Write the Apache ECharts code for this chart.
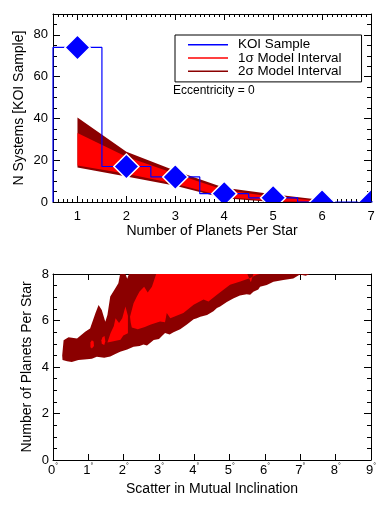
<!DOCTYPE html>
<html><head><meta charset="utf-8">
<script src="https://cdn.jsdelivr.net/npm/echarts@6/dist/echarts.min.js"></script>
<style>html,body{margin:0;padding:0;background:#fff}#c{width:388px;height:507px}</style>
</head><body><div id="c"></div>
<script>
// ---- data ----
const planetCounts = [1, 2, 3, 4, 5, 6, 7];
const koiSystems = [74, 17, 12, 4, 2, 0, 0];
const modelX = [1, 2, 3, 4, 5, 6];
const sigma2Upper = [40.5, 24, 15, 6.8, 3.7, 1];
const sigma2Lower = [16.5, 12.2, 7.8, 1.8, 0, 0];
const sigma1Upper = [33, 21.7, 13.5, 5.7, 2.5, 0.5];
const sigma1Lower = [17.5, 13.5, 8.7, 2.5, 0.3, 0];
const topXTicks = [1, 2, 3, 4, 5, 6, 7];
const topYTicks = [0, 20, 40, 60, 80];

// bottom panel: contour outlines [scatter in mutual inclination (deg), planets per star]
const contour2Sigma = [
  [0.27,4.3],[0.4,4.25],[0.53,4.22],[0.72,4.3],[0.96,4.33],[1.1,4.36],[1.24,4.44],[1.45,4.4],
  [1.62,4.45],[1.75,4.55],[1.9,4.66],[2.1,4.75],[2.28,4.87],[2.45,4.9],[2.56,4.97],[2.66,4.92],
  [2.85,5.16],[3.0,5.2],[3.17,5.46],[3.3,5.4],[3.41,5.5],[3.6,5.62],[3.79,5.83],[3.98,6.05],
  [4.07,6.1],[4.17,6.16],[4.36,6.24],[4.54,6.4],[4.64,6.54],[4.73,6.6],[4.92,6.8],[5.1,6.95],
  [5.29,7.08],[5.48,7.13],[5.58,7.11],[5.67,7.24],[5.81,7.33],[5.86,7.45],[6.05,7.53],[6.24,7.67],
  [6.52,7.74],[6.8,7.81],[6.99,7.98],[7.15,7.93],[7.27,8.0],
  [2.15,8.0],[2.1,7.8],[2.05,8.0],[1.9,8.0],[1.85,7.6],[1.76,7.38],[1.62,7.03],[1.54,6.24],
  [1.48,5.95],[1.38,6.45],[1.29,6.67],[1.2,6.31],[1.05,5.66],[0.91,5.52],[0.68,5.23],[0.44,5.28],
  [0.3,5.15],[0.26,4.5]
];
const contour1Sigma = [
  [[2.23,5.7],[2.4,5.62],[2.6,5.72],[2.75,5.82],[3.03,5.96],[3.17,5.92],[3.22,6.32],[3.32,6.1],
   [3.46,6.18],[3.69,6.32],[3.98,6.68],[4.26,6.9],[4.4,6.82],[4.64,7.11],[5.01,7.54],[5.3,7.68],
   [5.58,7.83],[5.77,7.97],[5.85,8.0],[5.67,8.0],[5.6,7.65],[5.5,8.0],[2.92,8.0],[2.8,7.45],
   [2.68,7.2],[2.58,7.45],[2.45,7.25],[2.37,7.02],[2.28,6.74],[2.18,6.16],[2.2,5.9]],
  [[1.54,5.05],[1.63,5.46],[1.72,5.75],[1.77,6.1],[1.87,5.89],[1.96,6.1],[2.05,6.6],[2.12,6.2],
   [2.12,5.45],[1.99,5.35],[1.91,5.17],[1.68,5.1]],
  [[1.06,4.85],[1.1,4.8],[1.16,4.9],[1.15,5.1],[1.1,5.15],[1.06,5.05]],
  [[1.38,5.0],[1.45,4.95],[1.48,5.1],[1.46,5.33],[1.4,5.28],[1.37,5.15]]
];

// ---- chart ----
const FONT = "'Liberation Sans', Arial, sans-serif";
const BLUE = '#0000ff', RED = '#ff0000', DARK = '#8b0000';
const line = {show: true, onZero: false, lineStyle: {color: '#000', width: 1}};
const noLine = {show: false, onZero: false};
const lbl = {fontFamily: FONT, fontSize: 13, color: '#000'};
const nameStyle = {fontFamily: FONT, fontSize: 14, color: '#000'};
const tick = (len, extra) => Object.assign({inside: true, length: len, lineStyle: {color: '#000'}}, extra || {});

function bandPolygon(lower, upper) {
  const up = modelX.map((x, i) => [x, upper[i]]);
  const lo = modelX.map((x, i) => [x, lower[i]]).reverse();
  return up.concat(lo);
}
function polySeries(name, polys, color, xi, yi) {
  return {
    type: 'custom', name, xAxisIndex: xi, yAxisIndex: yi, clip: true,
    itemStyle: {color},
    data: polys.map((_, i) => [i]),
    renderItem: (params, api) => ({
      type: 'polygon',
      shape: {points: polys[params.dataIndex].map(p => api.coord(p))},
      style: {fill: color, stroke: null}
    })
  };
}
const stepData = [[planetCounts[0] - 0.5, 0]];
planetCounts.forEach((n, i) => {
  stepData.push([n - 0.5, koiSystems[i]]);
  stepData.push([n + 0.5, koiSystems[i]]);
});

const degFmt = v => '{n|' + v + '}{d|°}';

const blankAxis = (gi, min, max, interval, pos, len) => ({
  gridIndex: gi, type: 'value', min, max, interval, position: pos,
  axisLine: noLine, splitLine: {show: false}, axisLabel: {show: false}, axisTick: tick(len)
});

const option = {
  animation: false,
  backgroundColor: '#fff',
  grid: [
    {left: 53, top: 14, width: 318, height: 188},
    {left: 53, top: 274, width: 318, height: 186},
    {left: 53, top: 14, width: 318, height: 188}
  ],
  legend: {
    left: 175, top: 35, orient: 'vertical', selectedMode: false,
    padding: [3, 20, 4, 13], itemGap: 0, itemWidth: 40, itemHeight: 1.5,
    borderColor: '#000', borderWidth: 1,
    textStyle: {fontFamily: FONT, fontSize: 13.4, color: '#000', lineHeight: 13.3, padding: [0, 0, 0, 5]},
    data: [
      {name: 'KOI Sample', icon: 'rect'},
      {name: '1σ Model Interval', icon: 'rect'},
      {name: '2σ Model Interval', icon: 'rect'}
    ]
  },
  graphic: [{
    type: 'text', left: 173, top: 85,
    style: {text: 'Eccentricity = 0', fontFamily: FONT, fontSize: 12, fill: '#000'}
  }],
  xAxis: [
    {gridIndex: 0, type: 'value', min: 0.5, max: 7, position: 'bottom', axisLine: line,
     splitLine: {show: false}, axisTick: tick(6, {customValues: topXTicks}),
     axisLabel: Object.assign({margin: 8, customValues: topXTicks}, lbl),
     name: 'Number of Planets Per Star', nameLocation: 'middle', nameGap: 22, nameTextStyle: nameStyle},
    {gridIndex: 0, type: 'value', min: 0.5, max: 7, position: 'top', axisLine: line,
     splitLine: {show: false}, axisLabel: {show: false}, axisTick: tick(6, {customValues: topXTicks})},
    {gridIndex: 1, type: 'value', min: 0, max: 9, interval: 1, position: 'bottom', axisLine: line,
     splitLine: {show: false}, axisTick: tick(6),
     axisLabel: {margin: 3, formatter: degFmt,
       rich: {n: {fontFamily: FONT, fontSize: 13, color: '#000', lineHeight: 14},
              d: {fontFamily: FONT, fontSize: 7, color: '#000', verticalAlign: 'top', lineHeight: 7}}},
     name: 'Scatter in Mutual Inclination', nameLocation: 'middle', nameGap: 22, nameTextStyle: nameStyle},
    {gridIndex: 1, type: 'value', min: 0, max: 9, interval: 1, position: 'top', axisLine: line,
     splitLine: {show: false}, axisLabel: {show: false}, axisTick: tick(6)},
    blankAxis(2, 0.5, 7, 0.1, 'bottom', 3),
    blankAxis(2, 0.5, 7, 0.1, 'top', 3)
  ],
  yAxis: [
    {gridIndex: 0, type: 'value', min: 0, max: 90, position: 'left', axisLine: line,
     splitLine: {show: false}, axisTick: tick(7, {customValues: topYTicks}),
     axisLabel: Object.assign({margin: 5, customValues: topYTicks}, lbl),
     name: 'N Systems [KOI Sample]', nameLocation: 'middle', nameGap: 27, nameMoveOverlap: false,
     nameTextStyle: nameStyle},
    {gridIndex: 0, type: 'value', min: 0, max: 90, position: 'right', axisLine: line,
     splitLine: {show: false}, axisLabel: {show: false}, axisTick: tick(7, {customValues: topYTicks})},
    {gridIndex: 1, type: 'value', min: 0, max: 8, interval: 2, position: 'left', axisLine: line,
     splitLine: {show: false}, axisTick: tick(7),
     minorTick: {show: true, splitNumber: 4, length: 4, lineStyle: {color: '#000'}},
     axisLabel: Object.assign({margin: 4}, lbl),
     name: 'Number of Planets Per Star', nameLocation: 'middle', nameGap: 19, nameMoveOverlap: false,
     nameTextStyle: nameStyle},
    {gridIndex: 1, type: 'value', min: 0, max: 8, interval: 2, position: 'right', axisLine: line,
     splitLine: {show: false}, axisLabel: {show: false}, axisTick: tick(7),
     minorTick: {show: true, splitNumber: 4, length: 4, lineStyle: {color: '#000'}}},
    blankAxis(2, 0, 90, 5, 'left', 4),
    blankAxis(2, 0, 90, 5, 'right', 4)
  ],
  series: [
    polySeries('2σ Model Interval', [bandPolygon(sigma2Lower, sigma2Upper)], DARK, 0, 0),
    polySeries('1σ Model Interval', [bandPolygon(sigma1Lower, sigma1Upper)], RED, 0, 0),
    {type: 'line', name: 'KOI Sample', xAxisIndex: 0, yAxisIndex: 0, data: stepData,
     showSymbol: false, symbol: 'none', clip: true, z: 5,
     itemStyle: {color: BLUE}, lineStyle: {color: BLUE, width: 1.2}},
    {type: 'custom', name: 'KOI points', xAxisIndex: 0, yAxisIndex: 0, clip: true, z: 6,
     data: planetCounts.map((n, i) => [n, koiSystems[i]]),
     itemStyle: {color: BLUE},
     renderItem: (params, api) => {
       const c = api.coord([api.value(0), api.value(1)]);
       const r = 12.5;
       return {type: 'polygon',
         shape: {points: [[c[0], c[1] - r], [c[0] + r, c[1]], [c[0], c[1] + r], [c[0] - r, c[1]]]},
         style: {fill: BLUE, stroke: '#fff', lineWidth: 1.5}};
     }},
    polySeries('2σ contour', [contour2Sigma], DARK, 2, 2),
    polySeries('1σ contour', contour1Sigma, RED, 2, 2)
  ]
};
echarts.init(document.getElementById('c')).setOption(option);
</script></body></html>
